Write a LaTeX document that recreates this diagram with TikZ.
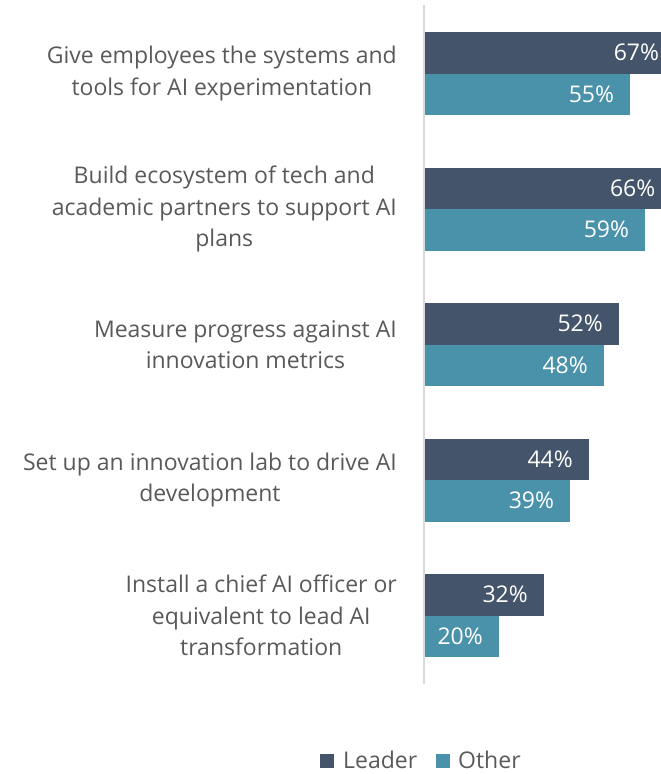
\documentclass[tikz,border=0pt]{standalone}
\usepackage{fontspec}
\setmainfont{Open Sans}
\usetikzlibrary{positioning}
\definecolor{leadcol}{HTML}{44546A}
\definecolor{othcol}{HTML}{4A91AA}
\definecolor{txtgray}{HTML}{595959}
\definecolor{axisgray}{HTML}{D9D9D9}
\tikzset{
    catlabel/.style={anchor=east, align=center, inner sep=0pt, text=txtgray,
        font=\fontsize{23}{31.5}\selectfont},
    pctlabel/.style={anchor=east, inner sep=0pt, text=white,
        font=\fontsize{23}{26}\selectfont},
    legbox/.style={minimum size=14pt, inner sep=0pt},
    legtext/.style={anchor=base west, inner sep=0pt, text=txtgray,
        font=\fontsize{23}{26}\selectfont}
}
\begin{document}
\begin{tikzpicture}[x=1pt,y=-1pt]
    \useasboundingbox (0,0) rectangle (661,774);
    \begin{scope}
    \clip (0,0) rectangle (661,774);
    % bars, one group per measure
    \foreach \i/\lead/\oth/\txt in {
        1/67/55/{Give employees the systems and\\tools for AI experimentation},
        2/66/59/{Build ecosystem of tech and\\academic partners to support AI\\plans},
        3/52/48/{Measure progress against AI\\innovation metrics},
        4/44/39/{Set up an innovation lab to drive AI\\development},
        5/32/20/{Install a chief AI officer or\\equivalent to lead AI\\transformation}}
    {
        \pgfmathsetmacro\yc{73.5+135.5*(\i-1)}
        \pgfmathsetmacro\xl{424+3.75*\lead}
        \pgfmathsetmacro\xo{424+3.75*\oth}
        \fill[leadcol] (424,{\yc-41.5}) rectangle (\xl,\yc);
        \fill[othcol] (424,\yc) rectangle (\xo,{\yc+41.5});
        \node[pctlabel] (lead-\i) at ({\xl-16},{\yc-20.75}) {\lead\%};
        \node[pctlabel] (oth-\i) at ({\xo-16},{\yc+20.75}) {\oth\%};
        \node[catlabel] (cat-\i) at (397,\yc) {\txt};
    }
    \end{scope}
    % axis
    \draw[axisgray, line width=1.5pt] (424,5) -- (424,684);
    % legend
    \node[legbox, fill=leadcol] (legL) at (327,761) {};
    \node[legtext] (legLt) at (343,768.5) {Leader};
    \node[legbox, fill=othcol] (legO) at (443,761) {};
    \node[legtext] (legOt) at (458,768.5) {Other};
\end{tikzpicture}
\end{document}
